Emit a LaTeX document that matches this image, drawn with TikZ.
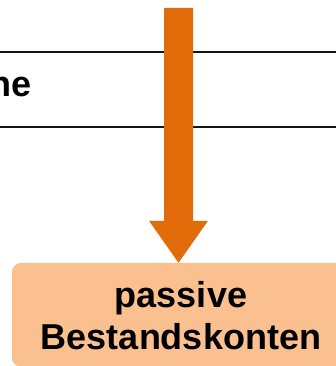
\documentclass[tikz,border=0pt]{standalone}
\usepackage{fontspec}
\setmainfont{Liberation Sans}
\usetikzlibrary{calc}
\definecolor{flow}{HTML}{E36C0A}
\definecolor{boxfill}{HTML}{FAC090}
\definecolor{rulecol}{HTML}{141414}
\tikzset{
  tablerule/.style={draw=rulecol, line width=2.4pt},
  flowarrow/.style={fill=flow},
  accountbox/.style={fill=boxfill, rounded corners=10pt},
  boldtext/.style={inner sep=0pt, font=\fontsize{36}{42}\selectfont\bfseries},
}
\begin{document}
\begin{tikzpicture}[x=1pt, y=-1pt]
  \useasboundingbox (0,0) rectangle (336,366);
  \clip (0,0) rectangle (336,366);

  % table rules and the visible part of the header cell
  \coordinate (r1a) at (0,52);   \coordinate (r1b) at (336,52);
  \coordinate (r2a) at (0,127);  \coordinate (r2b) at (336,127);
  \draw[tablerule] (r1a) -- (r1b);
  \draw[tablerule] (r2a) -- (r2b);
  \node[boldtext, anchor=base east] (hdr) at (32,97) {ne};

  % target box (runs past the right edge)
  \node[minimum width=338pt, minimum height=104pt, inner sep=0pt] (box) at (181,315) {};
  \fill[accountbox] (box.south west) rectangle (box.north east);
  \node[boldtext, align=center] (label) at (181,316) {passive\\Bestandskonten};

  % block arrow from the top into the box
  \coordinate (src) at (178.5,8);
  \coordinate (tip) at (box.north -| src);
  \fill[flowarrow]
    ([xshift=-14.5pt]src) -- ([xshift=14.5pt]src)
    -- ([xshift=14.5pt, yshift=42pt]tip) -- ([xshift=29.5pt, yshift=42pt]tip)
    -- (tip)
    -- ([xshift=-29.5pt, yshift=42pt]tip) -- ([xshift=-14.5pt, yshift=42pt]tip)
    -- cycle;
\end{tikzpicture}
\end{document}
